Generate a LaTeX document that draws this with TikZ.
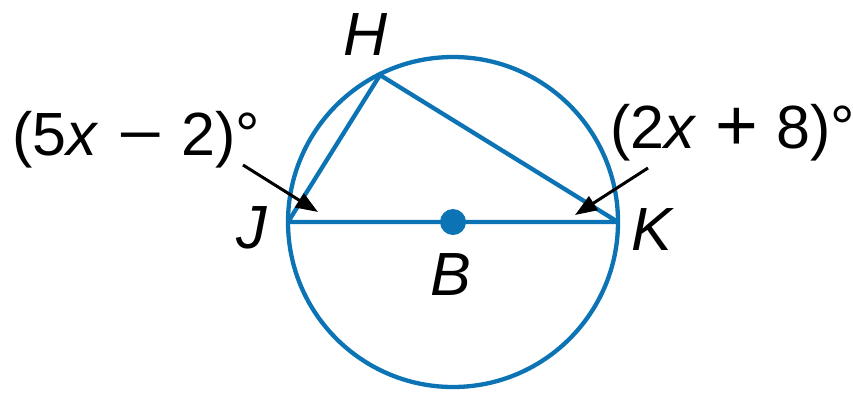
\documentclass[tikz,border=0pt]{standalone}
\usepackage{fontspec}
\usepackage{graphicx}
\setmainfont{Liberation Sans}
\usetikzlibrary{arrows.meta}
\definecolor{cblue}{RGB}{12,116,180}
\newcommand{\opgap}{\hspace{0.3em}}
\newcommand{\bigminus}{\scalebox{1.3}[1]{−}}
\newcommand{\bigplus}{\raisebox{-0.04em}{\scalebox{1.2}{+}}}
\begin{document}
\begin{tikzpicture}[x=1pt,y=-1pt,
  geom/.style={draw=cblue,line width=4.3pt},
  arr/.style={draw=black,line width=3pt,-{Triangle[length=22pt,width=16pt]}},
  lbl/.style={inner sep=0pt,anchor=base,font=\fontsize{61}{70}\selectfont\itshape},
  expr/.style={inner sep=0pt,anchor=base west,font=\fontsize{61}{70}\selectfont}]
\useasboundingbox (0,0) rectangle (853,394);
\fill[white] (0,0) rectangle (853,394);
\coordinate (B) at (453,222);
\coordinate (J) at (288,222);
\coordinate (K) at (618,222);
\coordinate (H) at (380,75);
\draw[geom] (B) circle [radius=165pt];
\draw[geom,line join=round] (J) -- (H) -- (K) -- cycle;
\fill[cblue] (B) circle [radius=13pt];
\node[lbl] (lH) at (366,55) {H};
\node[lbl] (lJ) at (252,248) {J};
\node[lbl] (lK) at (652,250) {K};
\node[lbl] (lB) at (451,295) {B};
\node[expr] (e1) at (12,155) {(5\textit{x}\opgap\bigminus\opgap2)°};
\node[expr] (e2) at (610,148) {(2\textit{x}\opgap\bigplus\opgap8)°};
\coordinate (t1) at (243,165);
\coordinate (h1) at (318,212);
\coordinate (t2) at (648,168);
\coordinate (h2) at (575,215);
\draw[arr] (t1) -- (h1);
\draw[arr] (t2) -- (h2);
\end{tikzpicture}
\end{document}
